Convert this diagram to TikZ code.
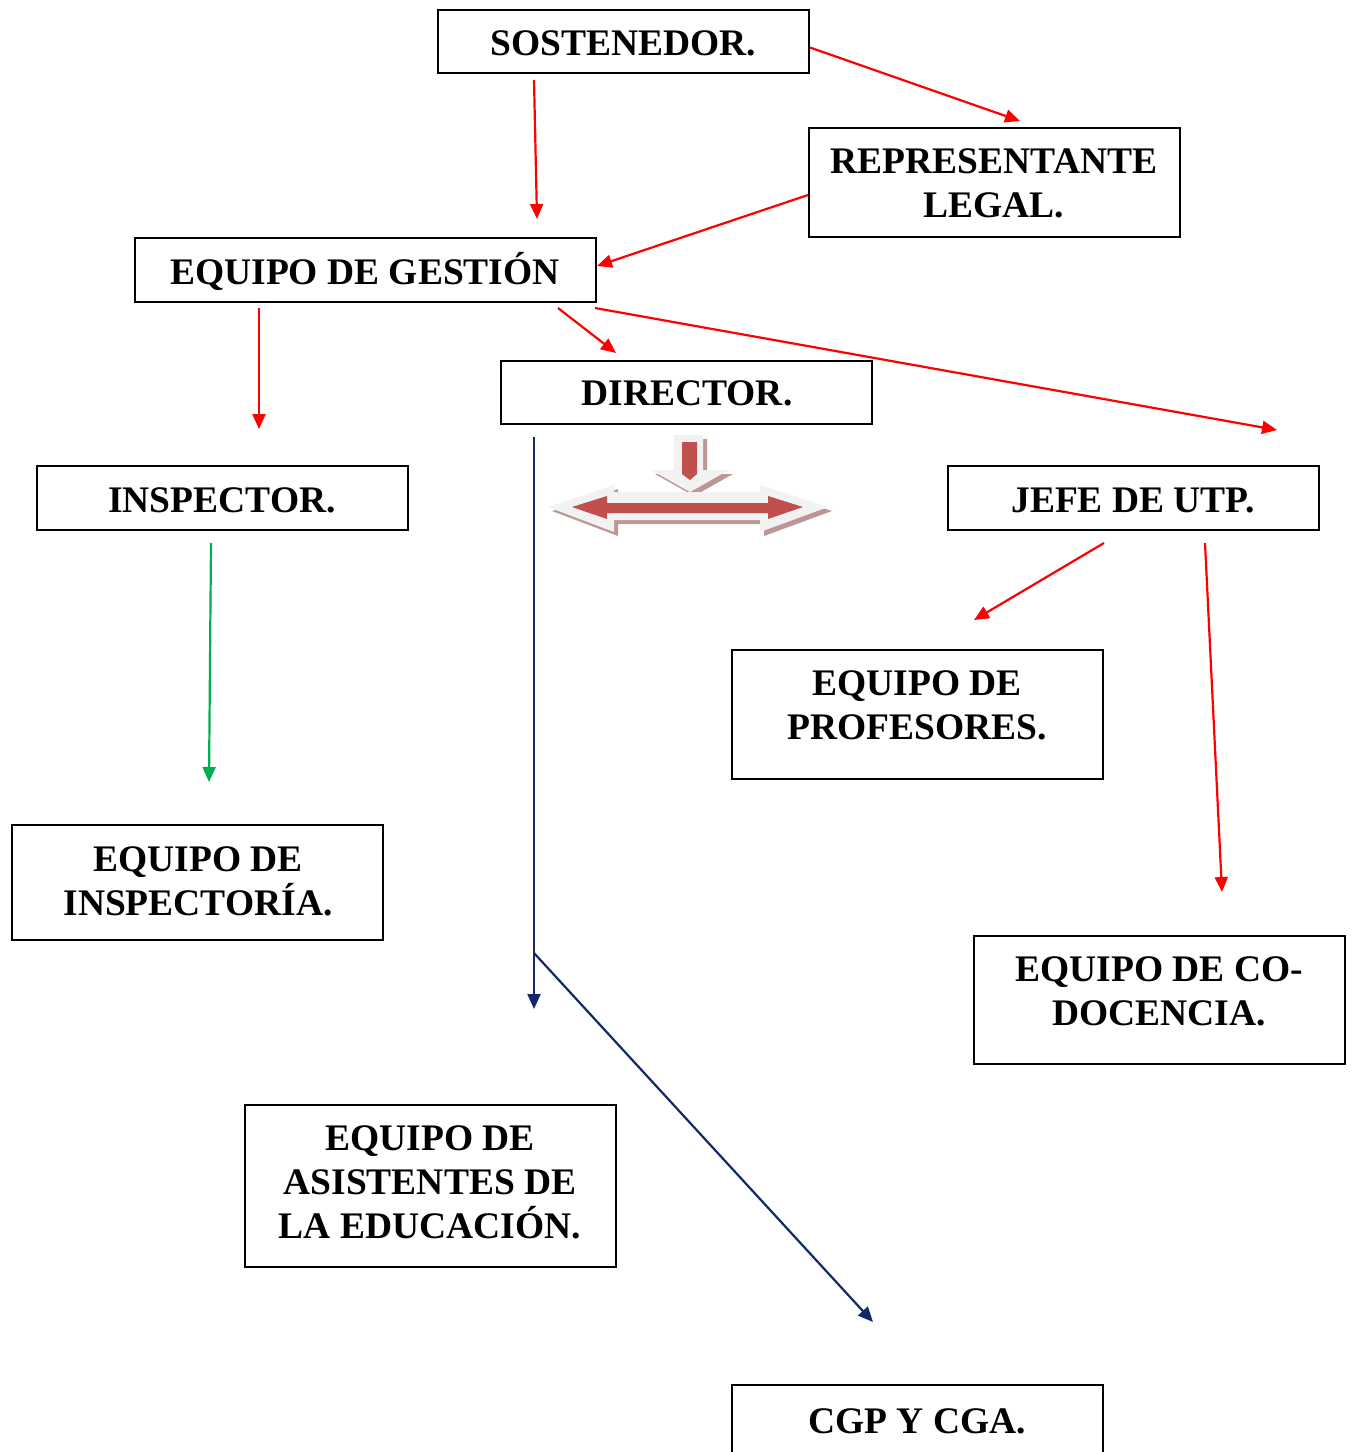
\documentclass[tikz,border=0pt]{standalone}
\usepackage{fontspec}
\setmainfont{Liberation Serif}
\usetikzlibrary{arrows.meta}
\definecolor{navy}{RGB}{18,40,105}
\definecolor{grn}{RGB}{0,176,80}
\definecolor{arrred}{RGB}{192,80,77}
\definecolor{arrshadow}{RGB}{190,150,150}
\definecolor{arrwhite}{RGB}{242,242,242}
\begin{document}
\begin{tikzpicture}[x=1pt,y=-1pt,
  box/.style={draw=black,line width=2pt,minimum width=371pt,inner sep=0pt},
  txt/.style={font=\fontsize{37.5}{44}\selectfont\bfseries,align=center,inner sep=0pt},
  tip/.style={-{Triangle[length=15pt,width=13pt]}},
  redarr/.style={tip,draw=red,line width=2.2pt},
  grnarr/.style={tip,draw=grn,line width=2.2pt},
  navyarr/.style={tip,draw=navy,line width=2.2pt}]
\clip (0,0) rectangle (1353,1452);
\fill[white] (0,0) rectangle (1353,1452);
% boxes
\node[box,minimum width=371pt,minimum height=63pt] (bsos) at (623.5,41.5) {};
\node[box,minimum width=371pt,minimum height=109pt] (brep) at (994.5,182.5) {};
\node[box,minimum width=461pt,minimum height=64pt] (bges) at (365.5,270) {};
\node[box,minimum width=371pt,minimum height=63pt] (bdir) at (686.5,392.5) {};
\node[box,minimum width=371pt,minimum height=64pt] (bins) at (222.5,498) {};
\node[box,minimum width=371pt,minimum height=64pt] (butp) at (1133.5,498) {};
\node[box,minimum width=371pt,minimum height=129pt] (bprof) at (917.5,714.5) {};
\node[box,minimum width=371pt,minimum height=115pt] (binsp) at (197.5,882.5) {};
\node[box,minimum width=371pt,minimum height=128pt] (bcodo) at (1159.5,1000) {};
\node[box,minimum width=371pt,minimum height=162pt] (basis) at (430.5,1186) {};
\node[box,minimum width=371pt,minimum height=130pt] (bcgp) at (917.5,1450) {};
% texts
\node[txt] (tsos) at (623,43) {SOSTENEDOR.};
\node[txt] (trep) at (994,183) {REPRESENTANTE\\LEGAL.};
\node[txt] (tges) at (365,271) {EQUIPO DE GESTIÓN};
\node[txt] (tdir) at (687,393) {DIRECTOR.};
\node[txt] (tins) at (222,500) {INSPECTOR.};
\node[txt] (tutp) at (1133,500) {JEFE DE UTP.};
\node[txt] (tprof) at (917,705) {EQUIPO DE\\PROFESORES.};
\node[txt] (tinsp) at (198,881) {EQUIPO DE\\INSPECTORÍA.};
\node[txt] (tcodo) at (1159,991) {EQUIPO DE CO-\\DOCENCIA.};
\node[txt] (tasis) at (430,1182) {EQUIPO DE\\ASISTENTES DE\\LA EDUCACIÓN.};
\node[txt] (tcgp) at (917,1421) {CGP Y CGA.};
% free ends of connectors
\coordinate (s1) at (534,80);   \coordinate (e1) at (537,219);
\coordinate (e2) at (1020,121);
\coordinate (s3) at (808,195);  \coordinate (e3) at (597,266);
\coordinate (s4) at (259,308);  \coordinate (e4) at (259,429);
\coordinate (s5) at (558,308);  \coordinate (e5) at (616,353);
\coordinate (s6) at (595,308);  \coordinate (e6) at (1277,430);
\coordinate (s7) at (1104,543); \coordinate (e7) at (974,620);
\coordinate (s8) at (1205,543); \coordinate (e8) at (1222,892);
\coordinate (s9) at (211,543);  \coordinate (e9) at (209,782);
\coordinate (s10) at (534,437); \coordinate (e10) at (534,1009);
\coordinate (s11) at (534,953); \coordinate (e11) at (873,1322);
% connectors
\draw[redarr] (bsos.east) ++(0,6) -- (e2);
\draw[redarr] (s1) -- (e1);
\draw[redarr] (s3) -- (e3);
\draw[redarr] (s4) -- (e4);
\draw[redarr] (s5) -- (e5);
\draw[redarr] (s6) -- (e6);
\draw[redarr] (s7) -- (e7);
\draw[redarr] (s8) -- (e8);
\draw[grnarr] (s9) -- (e9);
\draw[navyarr] (s10) -- (e10);
\draw[navyarr] (s11) -- (e11);
% decorative block arrows: shadows
\begin{scope}[shift={(4,4)}]
\fill[arrshadow] (674,435) -- (703,435) -- (703,470) -- (729,470) -- (690,492) -- (651,470) -- (674,470) -- cycle;
\fill[arrshadow] (548,507) -- (614,485) -- (614,492) -- (760,492) -- (760,485) -- (828,507) -- (760,532) -- (760,520) -- (614,520) -- (614,532) -- cycle;
\end{scope}
% white bodies
\fill[arrwhite] (674,435) -- (703,435) -- (703,470) -- (729,470) -- (690,492) -- (651,470) -- (674,470) -- cycle;
\fill[arrwhite] (548,507) -- (614,485) -- (614,492) -- (760,492) -- (760,485) -- (828,507) -- (760,532) -- (760,520) -- (614,520) -- (614,532) -- cycle;
% red insides
\fill[arrred] (682,442) -- (697,442) -- (697,474) -- (690,480) -- (682,474) -- cycle;
\fill[arrred] (572,507) -- (607,496) -- (607,503) -- (768,503) -- (768,496) -- (803,507) -- (768,519) -- (768,513) -- (607,513) -- (607,519) -- cycle;
\end{tikzpicture}
\end{document}
